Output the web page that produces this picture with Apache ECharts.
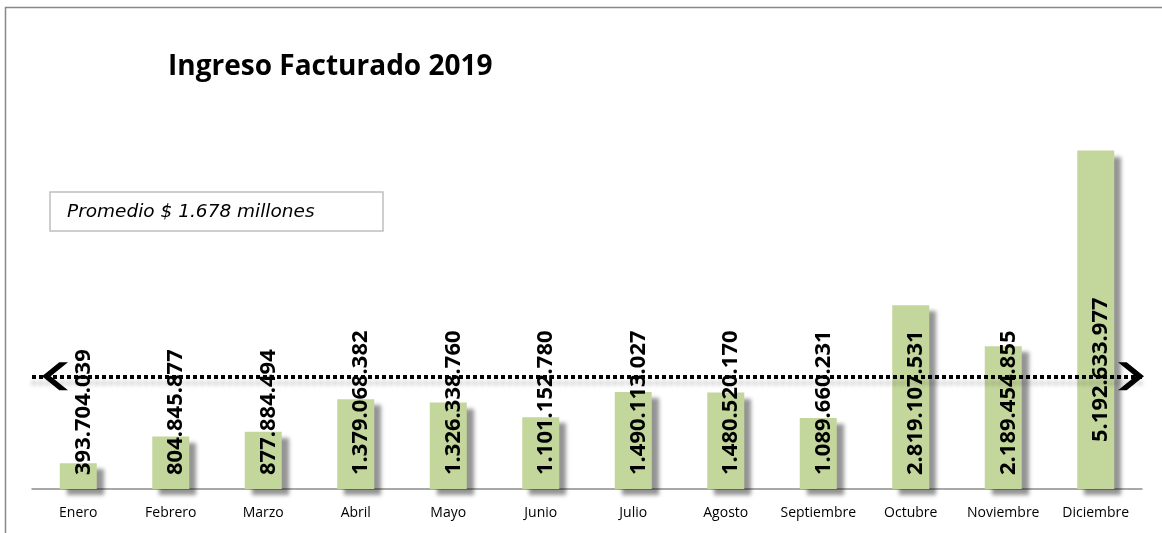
<!DOCTYPE html>
<html>
<head>
<meta charset="utf-8">
<script src="https://cdn.jsdelivr.net/npm/echarts@6/dist/echarts.min.js"></script>
<style>
html,body{margin:0;padding:0;background:#fff;}
#chart{width:1162px;height:533px;}
</style>
</head>
<body>
<div id="chart"></div>
<script>
const categories = ['Enero','Febrero','Marzo','Abril','Mayo','Junio','Julio','Agosto','Septiembre','Octubre','Noviembre','Diciembre'];
const valueLabels = ['393.704.039','804.845.877','877.884.494','1.379.068.382','1.326.338.760','1.101.152.780','1.490.113.027','1.480.520.170','1.089.660.231','2.819.107.531','2.189.454.855','5.192.633.977'];
const ingresos = [393704039, 804845877, 877884494, 1379068382, 1326338760, 1101152780, 1490113027, 1480520170, 1089660231, 2819107531, 2189454855, 5192633977];
const titleText = 'Ingreso Facturado 2019';
const promedioText = 'Promedio $ 1.678 millones';
const promedioLineaValor = 1.73e9; // drawn position of the average arrow

const chevron = 'path://M10,0 L20,10 L20,15 L10,5 L0,15 L0,10 Z';

const chart = echarts.init(document.getElementById('chart'));
chart.setOption({
  animation: false,
  backgroundColor: '#fff',
  title: {
    text: titleText,
    left: 163, top: 48,
    textStyle: {fontFamily: 'Open Sans', fontWeight: 'bold', fontSize: 28, color: '#000'}
  },
  graphic: [
    {type: 'rect', shape: {x: 5.5, y: 7.5, width: 1200, height: 600}, style: {fill: 'none', stroke: '#888', lineWidth: 1.5}, silent: true, z: -1},
    {type: 'rect', shape: {x: 50, y: 192, width: 333, height: 39}, style: {fill: '#fff', stroke: '#bfbfbf', lineWidth: 1.5}, silent: true},
    {type: 'text', left: 67, top: 203, style: {text: promedioText, font: 'italic 18.5px "DejaVu Sans"', fill: '#000'}, silent: true}
  ],
  grid: {left: 32, right: 20, top: 98, bottom: 44},
  xAxis: {
    type: 'category',
    data: categories,
    axisLine: {lineStyle: {color: '#8c8c8c', width: 1.5}},
    axisTick: {show: false},
    axisLabel: {interval: 0, fontFamily: 'Open Sans', fontSize: 14, color: '#000', margin: 17}
  },
  yAxis: {type: 'value', min: 0, max: 6e9, show: false, splitLine: {show: false}},
  series: [{
    type: 'bar',
    barWidth: 37,
    data: ingresos.map((v, i) => i === 11 ? {value: v, label: {distance: 47}} : v),
    itemStyle: {color: '#C3D69B', shadowColor: 'rgba(0,0,0,0.42)', shadowBlur: 4, shadowOffsetX: 7, shadowOffsetY: 6},
    label: {
      show: true,
      position: 'insideBottom',
      rotate: 90,
      align: 'left',
      verticalAlign: 'middle',
      distance: 14,
      offset: [0, 5],
      fontFamily: 'Open Sans', fontWeight: 'bold', fontSize: 22, color: '#000',
      formatter: p => valueLabels[p.dataIndex]
    },
    markLine: {
      silent: true,
      symbol: [chevron, chevron],
      symbolSize: [28, 26],
      symbolOffset: [[0, 23], [0, 11]],
      label: {show: false},
      lineStyle: {color: '#000', type: [4, 3], width: 4, shadowColor: 'rgba(0,0,0,0.25)', shadowBlur: 4, shadowOffsetY: 6},
      data: [{yAxis: promedioLineaValor}]
    }
  }]
});
</script>
</body>
</html>
